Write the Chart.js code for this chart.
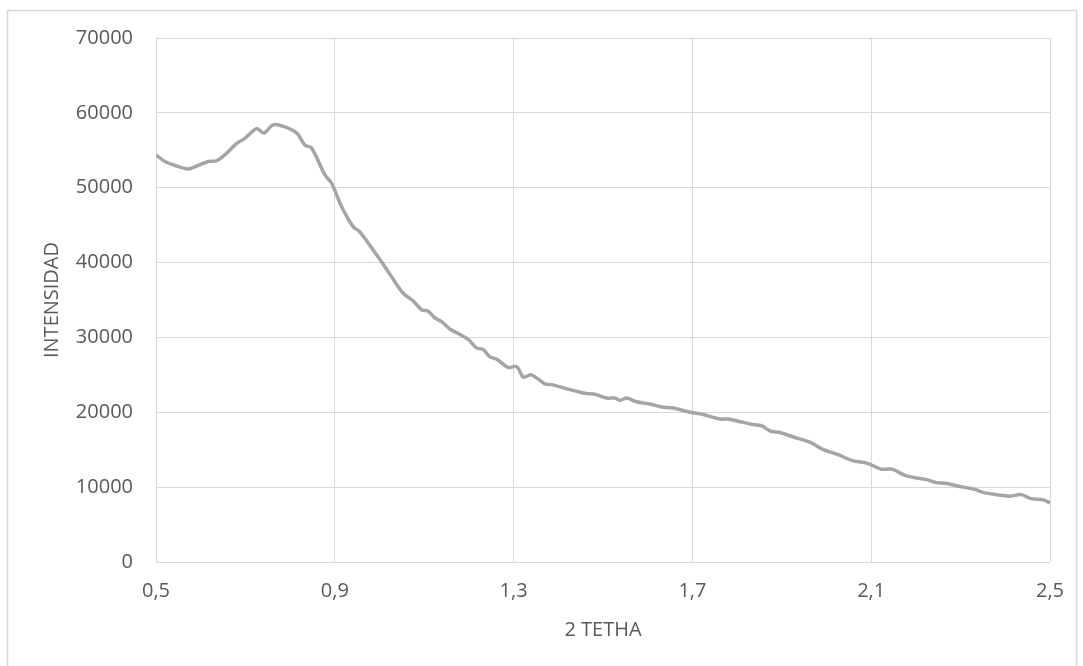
<!DOCTYPE html>
<html>
<head>
<meta charset="utf-8">
<script src="https://cdn.jsdelivr.net/npm/chart.js@4.4.1/dist/chart.umd.min.js"></script>
<style>
  html, body { margin: 0; padding: 0; background: #fff; }
  #grafico { display: block; }
</style>
</head>
<body>
<canvas id="grafico" width="1083" height="666"></canvas>
<script>
// valores (2 tetha vs intensidad)
var tetha = [0.500, 0.520, 0.546, 0.572, 0.591, 0.617, 0.636, 0.658, 0.680, 0.699,
  0.725, 0.741, 0.762, 0.785, 0.815, 0.833, 0.848, 0.878, 0.893, 0.915,
  0.941, 0.956, 1.001, 1.027, 1.053, 1.075, 1.094, 1.109, 1.124, 1.139,
  1.158, 1.180, 1.199, 1.217, 1.232, 1.247, 1.262, 1.288, 1.307, 1.322,
  1.340, 1.370, 1.385, 1.415, 1.441, 1.463, 1.482, 1.508, 1.527, 1.538,
  1.553, 1.575, 1.605, 1.631, 1.654, 1.695, 1.717, 1.762, 1.780, 1.810,
  1.833, 1.855, 1.874, 1.896, 1.926, 1.959, 1.970, 1.993, 2.023, 2.060,
  2.090, 2.123, 2.146, 2.179, 2.224, 2.246, 2.268, 2.306, 2.332, 2.350,
  2.380, 2.410, 2.436, 2.455, 2.485, 2.500];
var intensidad = [54400, 53500, 52900, 52500, 52900, 53500, 53600, 54600, 55900, 56600,
  57900, 57300, 58400, 58200, 57300, 55700, 55300, 51700, 50600, 47500,
  44800, 44100, 40400, 38100, 35900, 34900, 33700, 33500, 32600, 32100,
  31100, 30400, 29700, 28600, 28400, 27400, 27100, 26000, 26100, 24700,
  25000, 23800, 23700, 23200, 22800, 22500, 22400, 21900, 21900, 21600,
  21900, 21400, 21100, 20700, 20600, 20000, 19800, 19100, 19100, 18700,
  18400, 18200, 17500, 17300, 16700, 16100, 15800, 15000, 14400, 13500,
  13200, 12400, 12400, 11500, 11000, 10600, 10500, 10000, 9700, 9300,
  9000, 8800, 9000, 8500, 8300, 7900];
var xTicks = [0.5, 0.9, 1.3, 1.7, 2.1, 2.5];
var yTicks = [0, 10000, 20000, 30000, 40000, 50000, 60000, 70000];

var puntos = tetha.map(function (t, i) { return { x: t, y: intensidad[i] }; });

var textColor = '#595959';
var gridColor = '#d9d9d9';
var fuente = { family: "'Open Sans', sans-serif", size: 20 };

// marco exterior del grafico
var marco = {
  id: 'marco',
  beforeDraw: function (chart) {
    var ctx = chart.ctx;
    ctx.save();
    ctx.fillStyle = '#fff';
    ctx.fillRect(0, 0, chart.width, chart.height);
    ctx.strokeStyle = '#d9d9d9';
    ctx.lineWidth = 1.5;
    ctx.strokeRect(7.5, 10.5, 1069, 670);
    ctx.restore();
  }
};

new Chart(document.getElementById('grafico').getContext('2d'), {
  type: 'line',
  data: {
    datasets: [{
      data: puntos,
      borderColor: '#a5a5a5',
      borderWidth: 3.5,
      pointRadius: 0,
      tension: 0.3,
      fill: false
    }]
  },
  options: {
    responsive: false,
    animation: false,
    layout: { padding: { top: 38, right: 33, left: 0, bottom: 0 } },
    plugins: { legend: { display: false }, tooltip: { enabled: false } },
    scales: {
      x: {
        type: 'linear',
        min: 0.5,
        max: 2.5,
        afterBuildTicks: function (scale) {
          scale.ticks = xTicks.map(function (v) { return { value: v }; });
        },
        afterFit: function (scale) { scale.height = 104; },
        grid: { color: gridColor, drawTicks: false },
        border: { display: false },
        ticks: {
          color: textColor,
          font: fuente,
          padding: 17,
          maxRotation: 0,
          callback: function (v) { return v.toFixed(1).replace('.', ','); }
        },
        title: {
          display: true,
          text: '2 TETHA',
          color: textColor,
          font: fuente,
          padding: { top: 0, bottom: 24 }
        }
      },
      y: {
        min: 0,
        max: 70000,
        afterBuildTicks: function (scale) {
          scale.ticks = yTicks.map(function (v) { return { value: v }; });
        },
        afterFit: function (scale) { scale.width = 156; },
        grid: { color: gridColor, drawTicks: false },
        border: { display: false },
        ticks: {
          color: textColor,
          font: fuente,
          padding: 23,
          callback: function (v) { return String(v); }
        },
        title: {
          display: true,
          text: 'INTENSIDAD',
          color: textColor,
          font: fuente,
          padding: { top: 40, bottom: 0 }
        }
      }
    }
  },
  plugins: [marco]
});
</script>
</body>
</html>
